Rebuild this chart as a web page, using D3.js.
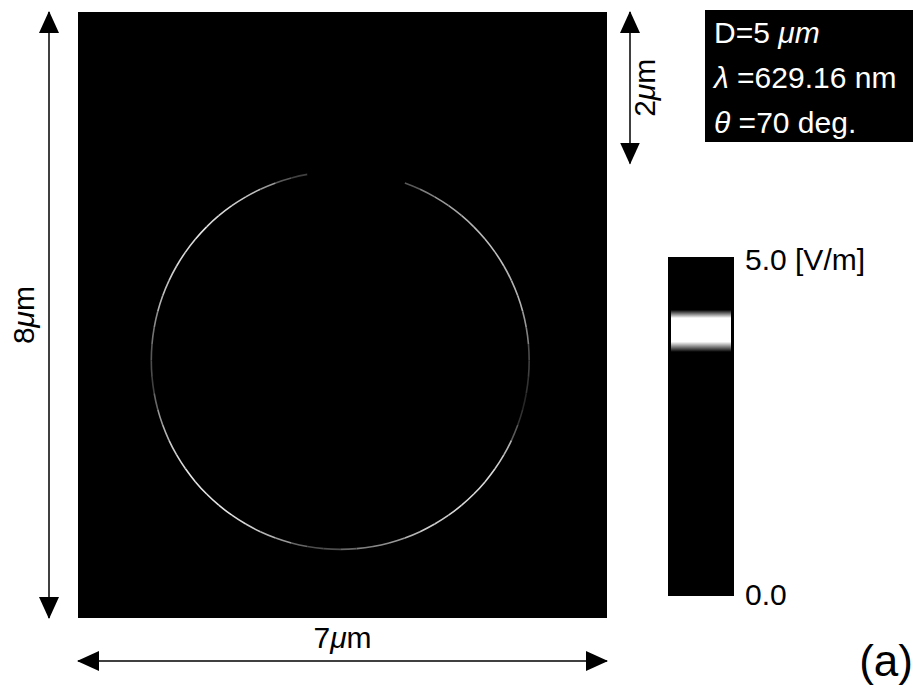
<!DOCTYPE html>
<html>
<head>
<meta charset="utf-8">
<script src="https://cdn.jsdelivr.net/npm/d3@7"></script>
<style>
body { margin: 0; background: #fff; }
text { font-family: "Liberation Sans", Arial, sans-serif; }
</style>
</head>
<body>
<svg></svg>
<script>
var svgWidth = 919;
var svgHeight = 693;

// size of the computed field, in micrometres
var fieldW = 7;
var fieldH = 8;
// particle (diameter and centre, micrometres)
var particleD = 5;
var particleCx = 3.47;
var particleCy = 4.6;
var topGap = 2;

// brightness of the ring at the particle surface, angle clockwise from top (deg)
var ringAngle = [0, 5, 10, 15, 20, 25, 30, 35, 40, 45, 50, 55,
                 60, 65, 70, 75, 80, 85, 90, 95, 100, 105, 110, 115,
                 120, 125, 130, 135, 140, 145, 150, 155, 160, 165, 170, 175,
                 180, 185, 190, 195, 200, 205, 210, 215, 220, 225, 230, 235,
                 240, 245, 250, 255, 260, 265, 270, 275, 280, 285, 290, 295,
                 300, 305, 310, 315, 320, 325, 330, 335, 340, 345, 350, 355];
var ringLevel = [0, 0, 0, 0, 0.35, 0.5, 0.6, 0.65, 0.7, 0.72, 0.75, 0.75,
                 0.7, 0.7, 0.7, 0.6, 0.5, 0.3, 0.25, 0.2, 0.15, 0.2, 0.35, 0.7,
                 0.8, 0.85, 0.85, 0.85, 0.85, 0.8, 0.8, 0.7, 0.6, 0.55, 0.5, 0.4,
                 0.3, 0.3, 0.4, 0.6, 0.7, 0.8, 0.85, 0.9, 0.9, 0.9, 0.9, 0.85,
                 0.8, 0.7, 0.6, 0.4, 0.25, 0.3, 0.35, 0.45, 0.55, 0.7, 0.75, 0.8,
                 0.85, 0.85, 0.9, 0.85, 0.85, 0.8, 0.75, 0.6, 0.35, 0.25, 0, 0];

// colour bar (V/m)
var cbDomain = [0, 5];
var cbStops = [0, 3.6, 3.75, 4.1, 4.22, 5];
var cbColors = ["#000", "#000", "#fff", "#fff", "#000", "#000"];
var cbTicks = [5, 0];
var cbLabels = ["5.0 [V/m]", "0.0"];

// parameter box, each line is a list of [text, italic]
var infoLines = [
  [["D=5 ", false], ["\u03bcm", true]],
  [["\u03bb", true], [" =629.16 nm", false]],
  [["\u03b8", true], [" =70 deg.", false]]
];

var svg = d3.select('svg')
  .attr('width', svgWidth)
  .attr('height', svgHeight);

var x = d3.scaleLinear().domain([0, fieldW]).range([78, 607]);
var y = d3.scaleLinear().domain([0, fieldH]).range([12, 618]);

// arrow heads
var defs = svg.append('defs');
defs.append('marker')
  .attr('id', 'head')
  .attr('markerUnits', 'userSpaceOnUse')
  .attr('markerWidth', 22)
  .attr('markerHeight', 20)
  .attr('refX', 21)
  .attr('refY', 10)
  .attr('orient', 'auto-start-reverse')
  .append('path')
  .attr('d', 'M0,0 L22,10 L0,20 Z')
  .attr('fill', '#000');

/* field */
svg.append('rect')
  .attr('x', x(0))
  .attr('y', y(0))
  .attr('width', x(fieldW) - x(0))
  .attr('height', y(fieldH) - y(0))
  .attr('fill', '#000');

var r = x(particleD / 2) - x(0);
var step = ringAngle[1] - ringAngle[0];
var gray = d3.scaleLinear().domain([0, 1]).range(['#000', '#fff']);
var arc = d3.arc()
  .innerRadius(r - 0.8)
  .outerRadius(r + 0.8)
  .startAngle(function(d, i) { return ringAngle[i] * Math.PI / 180; })
  .endAngle(function(d, i) { return (ringAngle[i] + step) * Math.PI / 180; });

svg.append('g')
  .attr('transform', 'translate(' + x(particleCx) + ',' + y(particleCy) + ')')
  .selectAll('path')
  .data(ringLevel)
  .enter().append('path')
  .attr('d', arc)
  .attr('fill', function(d) { return gray(d); });

/* dimension arrows */
function arrow(x1, y1, x2, y2) {
  svg.append('line')
    .attr('x1', x1).attr('y1', y1)
    .attr('x2', x2).attr('y2', y2)
    .attr('stroke', '#000')
    .attr('stroke-width', 1.5)
    .attr('marker-start', 'url(#head)')
    .attr('marker-end', 'url(#head)');
}
arrow(49, y(0), 49, y(fieldH));
arrow(x(0), 661, x(fieldW), 661);
arrow(630, y(0), 630, y(topGap));

function umLabel(g, n) {
  g.append('tspan').text(n);
  g.append('tspan').attr('font-style', 'italic').text('\u03bc');
  g.append('tspan').text('m');
}
umLabel(svg.append('text')
  .attr('transform', 'translate(34,' + y(fieldH / 2) + ') rotate(-90)')
  .attr('text-anchor', 'middle')
  .attr('font-size', 30), fieldH);
umLabel(svg.append('text')
  .attr('x', x(fieldW / 2))
  .attr('y', 648)
  .attr('text-anchor', 'middle')
  .attr('font-size', 30), fieldW);
umLabel(svg.append('text')
  .attr('transform', 'translate(655,' + y(topGap / 2) + ') rotate(-90)')
  .attr('text-anchor', 'middle')
  .attr('font-size', 30), topGap);

/* parameter box */
svg.append('rect')
  .attr('x', 705).attr('y', 10)
  .attr('width', 208).attr('height', 132)
  .attr('fill', '#000');
infoLines.forEach(function(line, i) {
  var t = svg.append('text')
    .attr('x', 714)
    .attr('y', 43 + i * 45)
    .attr('font-size', 30)
    .attr('fill', '#fff');
  line.forEach(function(p) {
    t.append('tspan').attr('font-style', p[1] ? 'italic' : null).text(p[0]);
  });
});

/* colour bar */
var cbY = d3.scaleLinear().domain(cbDomain).range([596, 257]);
var grad = defs.append('linearGradient')
  .attr('id', 'cb')
  .attr('x1', 0).attr('y1', 1)
  .attr('x2', 0).attr('y2', 0);
grad.selectAll('stop')
  .data(cbStops)
  .enter().append('stop')
  .attr('offset', function(d) { return (d - cbDomain[0]) / (cbDomain[1] - cbDomain[0]); })
  .attr('stop-color', function(d, i) { return cbColors[i]; });

svg.append('rect')
  .attr('x', 668).attr('y', cbY(cbDomain[1]))
  .attr('width', 66).attr('height', cbY(cbDomain[0]) - cbY(cbDomain[1]))
  .attr('fill', '#000');
svg.append('rect')
  .attr('x', 671).attr('y', cbY(cbDomain[1]))
  .attr('width', 60).attr('height', cbY(cbDomain[0]) - cbY(cbDomain[1]))
  .attr('fill', 'url(#cb)');

svg.selectAll('.cblab')
  .data(cbTicks)
  .enter().append('text')
  .attr('class', 'cblab')
  .attr('x', 745)
  .attr('y', function(d, i) { return i == 0 ? cbY(d) + 13 : cbY(d) + 9; })
  .attr('font-size', 30)
  .text(function(d, i) { return cbLabels[i]; });

svg.append('text')
  .attr('x', 913)
  .attr('y', 676)
  .attr('text-anchor', 'end')
  .attr('font-size', 44)
  .text('(a)');
</script>
</body>
</html>
